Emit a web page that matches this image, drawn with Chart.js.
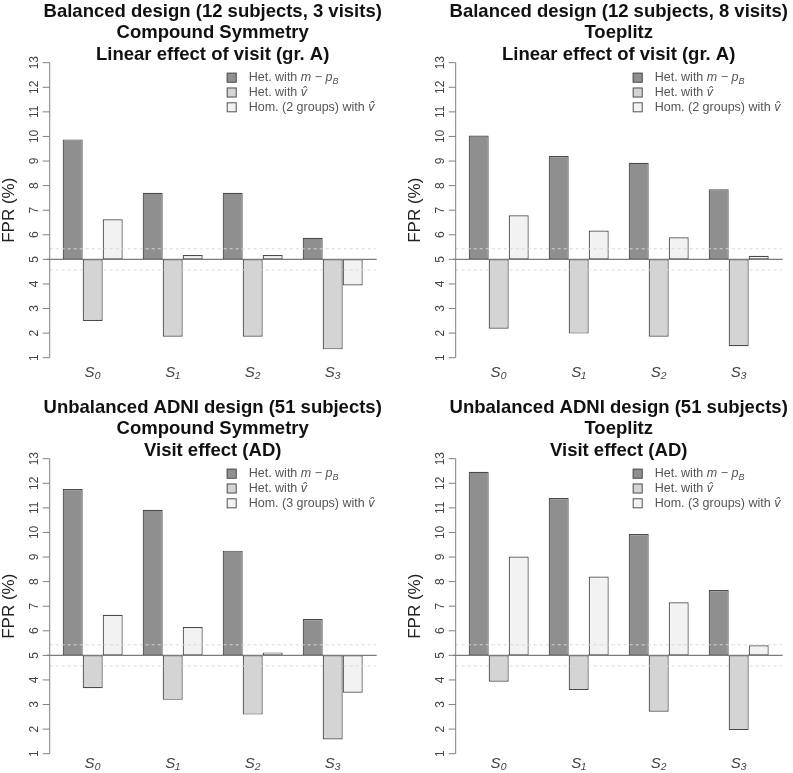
<!DOCTYPE html>
<html>
<head>
<meta charset="utf-8">
<script src="https://cdn.jsdelivr.net/npm/chart.js@4.4.0/dist/chart.umd.min.js"></script>
<style>
  body { margin: 0; background: #fff; overflow: hidden; }
  #wrap { position: relative; width: 793px; height: 773px; }
  canvas { position: absolute; }
</style>
</head>
<body>
<div id="wrap">
  <canvas id="c1" width="388" height="390" style="left:0px;top:0px"></canvas>
  <canvas id="c2" width="388" height="390" style="left:405.6px;top:0px"></canvas>
  <canvas id="c3" width="388" height="377" style="left:0px;top:396.3px"></canvas>
  <canvas id="c4" width="388" height="377" style="left:405.6px;top:396.3px"></canvas>
</div>
<script>
const categories = ['S₀', 'S₁', 'S₂', 'S₃'];
const yTicks = [1, 2, 3, 4, 5, 6, 7, 8, 9, 10, 11, 12, 13];
const nominal = 5;
const bandHigh = 5.43;
const bandLow = 4.57;

const titles1 = ['Balanced design (12 subjects, 3 visits)', 'Compound Symmetry', 'Linear effect of visit (gr. A)'];
const titles2 = ['Balanced design (12 subjects, 8 visits)', 'Toeplitz', 'Linear effect of visit (gr. A)'];
const titles3 = ['Unbalanced ADNI design (51 subjects)', 'Compound Symmetry', 'Visit effect (AD)'];
const titles4 = ['Unbalanced ADNI design (51 subjects)', 'Toeplitz', 'Visit effect (AD)'];

// values (FPR %)
const hetMpb1 = [9.88, 7.71, 7.71, 5.88];
const hetV1 = [2.49, 1.85, 1.85, 1.34];
const hom1 = [6.63, 5.18, 5.18, 3.94];

const hetMpb2 = [10.04, 9.20, 8.93, 7.85];
const hetV2 = [2.18, 1.98, 1.85, 1.47];
const hom2 = [6.79, 6.17, 5.90, 5.15];

const hetMpb3 = [11.77, 10.92, 9.26, 6.48];
const hetV3 = [3.66, 3.19, 2.59, 1.58];
const hom3 = [6.65, 6.15, 5.12, 3.48];

const hetMpb4 = [12.47, 11.40, 9.94, 7.66];
const hetV4 = [3.93, 3.59, 2.71, 1.96];
const hom4 = [9.02, 8.21, 7.16, 5.41];

// legend labels, split in pieces so the maths can be set in italic
const labelHetMpb = [['Het. with ', ''], ['m', 'i'], [' \u2212 ', ''], ['p', 'i'], ['B', 'sub']];
const labelHetV = [['Het. with ', ''], ['v\u0302', 'i']];
const labelHom2 = [['Hom. (2 groups) with ', ''], ['v\u0302', 'i']];
const labelHom3 = [['Hom. (3 groups) with ', ''], ['v\u0302', 'i']];

const colors = ['#8f8f8f', '#d4d4d4', '#f2f2f2'];
const FONT = '"Liberation Sans", Arial, sans-serif';

function drawRich(ctx, x, y, parts) {
    parts.forEach(p => {
        const txt = p[0], kind = p[1];
        if (kind === 'sub') {
            ctx.font = 'italic 9px ' + FONT;
            ctx.fillText(txt, x, y + 4);
        } else {
            ctx.font = (kind === 'i' ? 'italic ' : '') + '12.5px ' + FONT;
            ctx.fillText(txt, x, y);
        }
        x += ctx.measureText(txt).width;
    });
}

const rDecor = {
    id: 'rDecor',
    afterDatasetsDraw(chart, args, opts) {
        const ctx = chart.ctx;
        const area = chart.chartArea;
        const y = chart.scales.y;
        ctx.save();

        function line(x1, y1, x2, y2) {
            ctx.beginPath();
            ctx.moveTo(x1, y1);
            ctx.lineTo(x2, y2);
            ctx.stroke();
        }

        // dashed band around nominal level
        ctx.strokeStyle = '#d8d8d8';
        ctx.lineWidth = 1;
        ctx.setLineDash([3, 3]);
        [bandHigh, bandLow].forEach(v => {
            const py = y.getPixelForValue(v);
            line(area.left - 3, py, area.right + 3, py);
        });
        ctx.setLineDash([]);

        // nominal 5% line
        ctx.strokeStyle = '#7c7c7c';
        ctx.lineWidth = 1.4;
        const p5 = y.getPixelForValue(nominal);
        line(area.left - 6, p5, area.right + 4, p5);

        // y axis, R style
        const ax = area.left - 3;
        ctx.strokeStyle = '#808080';
        ctx.lineWidth = 1;
        line(ax, y.getPixelForValue(yTicks[0]), ax, y.getPixelForValue(yTicks[yTicks.length - 1]));
        ctx.fillStyle = '#444';
        ctx.font = '12px ' + FONT;
        ctx.textAlign = 'center';
        ctx.textBaseline = 'middle';
        yTicks.forEach(t => {
            const py = y.getPixelForValue(t);
            line(ax - 7, py, ax, py);
            ctx.save();
            ctx.translate(ax - 15, py);
            ctx.rotate(-Math.PI / 2);
            ctx.fillText(String(t), 0, 0);
            ctx.restore();
        });

        // y title
        ctx.save();
        ctx.fillStyle = '#222';
        ctx.font = '17px ' + FONT;
        ctx.translate(ax - 40, (area.top + area.bottom) / 2);
        ctx.rotate(-Math.PI / 2);
        ctx.fillText('FPR (%)', 0, 0);
        ctx.restore();

        // main title (3 lines)
        ctx.fillStyle = '#111';
        ctx.font = 'bold 18.5px ' + FONT;
        const cx = (area.left + area.right) / 2;
        opts.titles.forEach((t, i) => {
            ctx.fillText(t, cx, area.top - 51 + i * 21.7);
        });

        // legend
        ctx.textAlign = 'left';
        const lx = area.left + 174;
        opts.labels.forEach((parts, i) => {
            const cy = area.top + 15 + i * 14.8;
            ctx.fillStyle = colors[i];
            ctx.fillRect(lx, cy - 5, 10, 10);
            ctx.strokeStyle = '#555';
            ctx.lineWidth = 1;
            ctx.strokeRect(lx + 0.5, cy - 4.5, 9, 9);
            ctx.fillStyle = '#555';
            drawRich(ctx, lx + 22, cy, parts);
        });

        ctx.restore();
    }
};

function makeChart(id, titles, a, b, c, homLabel, xHeight, xPad) {
    const toBars = arr => arr.map(v => [nominal, v]);
    new Chart(document.getElementById(id), {
        type: 'bar',
        data: {
            labels: categories,
            datasets: [
                { data: toBars(a), backgroundColor: colors[0] },
                { data: toBars(b), backgroundColor: colors[1] },
                { data: toBars(c), backgroundColor: colors[2] }
            ]
        },
        options: {
            responsive: false,
            animation: false,
            events: [],
            layout: { padding: { left: 52.7, right: 15.3, top: 62.7, bottom: 0 } },
            datasets: {
                bar: {
                    categoryPercentage: 0.75,
                    barPercentage: 1.0,
                    borderColor: '#4a4a4a',
                    borderWidth: 1.2,
                    borderSkipped: false
                }
            },
            scales: {
                y: { display: false, min: 1, max: 13 },
                x: {
                    grid: { display: false, drawTicks: false },
                    border: { display: false },
                    ticks: {
                        color: '#444',
                        font: { family: FONT, size: 15, style: 'italic' },
                        padding: xPad
                    },
                    afterFit: s => { s.height = xHeight; }
                }
            },
            plugins: {
                legend: { display: false },
                tooltip: { enabled: false },
                rDecor: { titles: titles, labels: [labelHetMpb, labelHetV, homLabel] }
            }
        },
        plugins: [rDecor]
    });
}

makeChart('c1', titles1, hetMpb1, hetV1, hom1, labelHom2, 390 - 357.7, 6);
makeChart('c2', titles2, hetMpb2, hetV2, hom2, labelHom2, 390 - 357.7, 6);
makeChart('c3', titles3, hetMpb3, hetV3, hom3, labelHom3, 377 - 357.7, 1);
makeChart('c4', titles4, hetMpb4, hetV4, hom4, labelHom3, 377 - 357.7, 1);
</script>
</body>
</html>
